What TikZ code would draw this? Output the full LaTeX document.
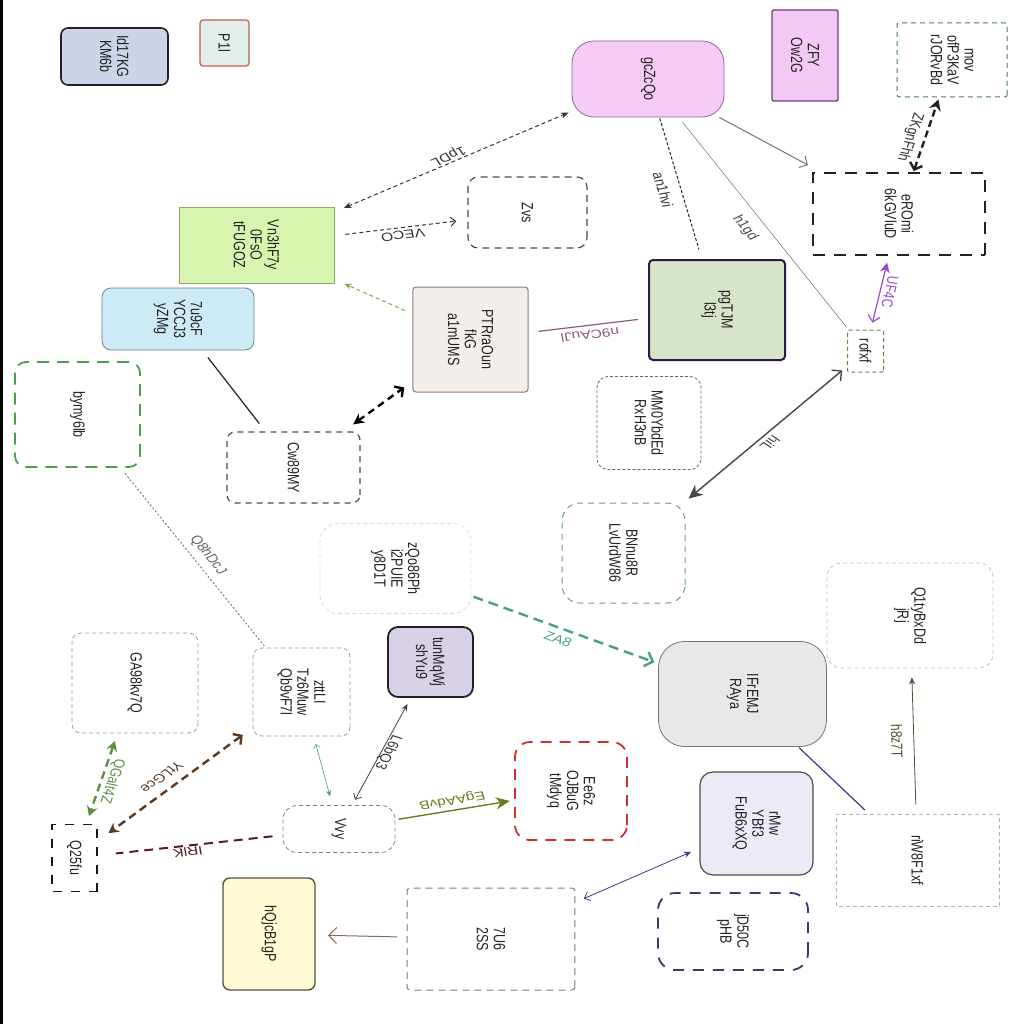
\documentclass[tikz,border=0pt]{standalone}
\usepackage{fontspec}
\setmainfont{Liberation Sans}
\usetikzlibrary{arrows.meta}
\definecolor{txt}{HTML}{222222}
\definecolor{fId}{HTML}{CDD3E8}
\definecolor{fP}{HTML}{E2EEEC}
\definecolor{dP}{HTML}{C0604A}
\definecolor{fVn}{HTML}{D8F5B0}
\definecolor{dVn}{HTML}{8AAA6A}
\definecolor{f7u}{HTML}{CDEAF7}
\definecolor{d7u}{HTML}{6A8090}
\definecolor{dBy}{HTML}{4E9E4E}
\definecolor{dCw}{HTML}{4A4A5A}
\definecolor{fPt}{HTML}{F4EEEA}
\definecolor{dPt}{HTML}{8A7A7A}
\definecolor{fGc}{HTML}{F6CCF6}
\definecolor{dGc}{HTML}{8A6A8A}
\definecolor{fZf}{HTML}{F2C8F4}
\definecolor{dZf}{HTML}{7A3A8A}
\definecolor{dMo}{HTML}{4A7A80}
\definecolor{fPg}{HTML}{D8E4C8}
\definecolor{dPg}{HTML}{2A1A4A}
\definecolor{dRo}{HTML}{6A8040}
\definecolor{dBn}{HTML}{6A9A90}
\definecolor{dZq}{HTML}{E2E0A8}
\definecolor{dQ1}{HTML}{D8C0A8}
\definecolor{fIf}{HTML}{E8E8E8}
\definecolor{fTu}{HTML}{D8D0E4}
\definecolor{fHq}{HTML}{FFFBD4}
\definecolor{dHq}{HTML}{5A5040}
\definecolor{d7U}{HTML}{7A7A90}
\definecolor{dEe}{HTML}{D03030}
\definecolor{fRm}{HTML}{EBEBF6}
\definecolor{dJd}{HTML}{3A3A6A}
\definecolor{dRi}{HTML}{A0B8C0}
\definecolor{eGreen}{HTML}{7AAA40}
\definecolor{ePurp}{HTML}{8A5A80}
\definecolor{eViol}{HTML}{9A4AD0}
\definecolor{eDkG}{HTML}{404840}
\definecolor{eTeal}{HTML}{4AA080}
\definecolor{eOlD}{HTML}{505030}
\definecolor{eNavy}{HTML}{3A3A7A}
\definecolor{eTeal2}{HTML}{4A9A80}
\definecolor{eOlive}{HTML}{6A7A20}
\definecolor{eGr2}{HTML}{5A9040}
\definecolor{eBrown}{HTML}{5A3A20}
\definecolor{eMaroon}{HTML}{5A1A20}
\definecolor{eBr2}{HTML}{8A6A5A}
\definecolor{eNavy2}{HTML}{3A3A8A}
\begin{document}
\begin{tikzpicture}[x=1pt,y=-1pt,
  nb/.style={xscale=1.3,rotate=-90,inner sep=0pt,align=center,text=txt,font=\fontsize{12.5}{13}\selectfont},
  lb/.style={xscale=1.3,inner sep=1pt,font=\fontsize{12}{13}\selectfont}]
\useasboundingbox (0,0) rectangle (1024,1024);
\fill[black] (0,0) rectangle (2.5,1024);
% nodes
\node[nb,fill=fId,draw=txt,line width=1.6pt,rounded corners=7pt,minimum width=57pt,minimum height=82.3pt] (id17) at (114.5,56.5) {Id17KG\\KM6b};
\node[nb,fill=fP,draw=dP,line width=1.2pt,rounded corners=3pt,minimum width=46pt,minimum height=37.7pt] (p1l) at (224.5,43) {P1l};
\node[nb,fill=fVn,draw=dVn,line width=0.8pt,minimum width=76pt,minimum height=119.2pt] (vn3) at (256.5,245) {Vn3hF7y\\0FsO\\tFUGOZ};
\node[nb,fill=f7u,draw=d7u,line width=0.8pt,rounded corners=9pt,minimum width=62pt,minimum height=116.9pt] (u7u) at (178,319) {7u9cF\\YCCJ3\\yZMg};
\node[nb,fill=white,draw=dBy,line width=1.8pt,dash pattern=on 12pt off 8pt,rounded corners=11pt,minimum width=105pt,minimum height=96.2pt] (bymy) at (77.5,414.5) {bymy6lb};
\node[nb,draw=dCw,line width=1.2pt,dash pattern=on 6pt off 5pt,rounded corners=8pt,minimum width=71pt,minimum height=102.3pt] (cw89) at (293.5,467.5) {Cw89MY};
\node[nb,fill=fPt,draw=dPt,line width=1pt,rounded corners=3pt,minimum width=105pt,minimum height=88.5pt] (ptr) at (470.5,339.5) {PTRraOun\\fkG\\a1mUMS};
\node[nb,fill=fGc,draw=dGc,line width=0.8pt,rounded corners=22pt,minimum width=76pt,minimum height=116.9pt] (gcz) at (648,79) {gcZcQo};
\node[nb,draw=black!70,line width=1.2pt,dash pattern=on 7pt off 5pt,rounded corners=10pt,minimum width=71pt,minimum height=91.5pt] (zvs) at (527.5,212.5) {Zvs};
\node[nb,fill=fZf,draw=dZf,line width=1.4pt,rounded corners=2pt,minimum width=91pt,minimum height=50.8pt] (zfy) at (805,55.5) {ZFY\\Ow2G};
\node[nb,draw=dMo,line width=1pt,dash pattern=on 5pt off 4pt,rounded corners=2pt,minimum width=74pt,minimum height=84.6pt] (mov) at (952,60) {mov\\ofP3KaV\\rJORvBd};
\node[nb,draw=txt,line width=1.8pt,dash pattern=on 12pt off 9pt,minimum width=82pt,minimum height=132.3pt] (ero) at (899,214) {eROmi\\6kGVluD};
\node[nb,fill=fPg,draw=dPg,line width=2pt,rounded corners=4pt,minimum width=100pt,minimum height=104.6pt] (pgt) at (717,310) {pgTJM\\l3tj};
\node[nb,draw=dRo,line width=1pt,dash pattern=on 4pt off 3pt,rounded corners=2pt,minimum width=42pt,minimum height=27.7pt] (rof) at (865.5,351) {rofxf};
\node[nb,draw=black!60,line width=0.8pt,dash pattern=on 3pt off 2pt,rounded corners=11pt,minimum width=93pt,minimum height=80pt] (mm0) at (649,423) {MM0YbdEd\\RxH3nB};
\node[nb,draw=dBn,line width=1pt,dash pattern=on 6pt off 5pt,rounded corners=18pt,minimum width=100pt,minimum height=94.6pt] (bnn) at (623.5,553) {BNnu8R\\LvUrdW86};
\node[nb,draw=dZq,line width=0.8pt,dash pattern=on 4pt off 3pt,rounded corners=18pt,minimum width=90pt,minimum height=116.2pt] (zqo) at (395.5,568.5) {zQo86Ph\\i2PUIE\\y8D1T};
\node[nb,draw=dQ1,line width=0.8pt,dash pattern=on 4pt off 3pt,rounded corners=14pt,minimum width=105pt,minimum height=127.7pt] (q1t) at (910,615.5) {Q1tyBxDd\\jRj};
\node[nb,fill=fIf,draw=black!55,line width=0.8pt,rounded corners=26pt,minimum width=105pt,minimum height=129.2pt] (ifr) at (742.5,694) {IFrEMJ\\RAya};
\node[nb,draw=black!40,line width=0.8pt,dash pattern=on 4pt off 3pt,rounded corners=9pt,minimum width=100pt,minimum height=96.9pt] (ga9) at (135,683) {GA98kv7Q};
\node[nb,draw=black!40,line width=0.8pt,dash pattern=on 4pt off 3pt,rounded corners=9pt,minimum width=88pt,minimum height=74.6pt] (ztt) at (301.5,692) {zttLI\\Tz6Muw\\Qb9vF7l};
\node[nb,fill=fTu,draw=txt,line width=1.8pt,rounded corners=10pt,minimum width=70pt,minimum height=65.4pt] (tun) at (430.5,662) {tunMqWj\\shYu9};
\node[nb,draw=black!50,line width=0.8pt,dash pattern=on 4pt off 3pt,rounded corners=14pt,minimum width=47pt,minimum height=86.2pt] (vvy) at (339,829) {Vvy};
\node[nb,draw=black!90,line width=1.6pt,dash pattern=on 9pt off 9pt,minimum width=67pt,minimum height=34.6pt] (q25) at (74.5,858) {Q25fu};
\node[nb,fill=fHq,draw=dHq,line width=1.4pt,rounded corners=7pt,minimum width=112pt,minimum height=70.8pt] (hqj) at (269,934) {hQjcB1gP};
\node[nb,draw=d7U,line width=1pt,dash pattern=on 7pt off 5pt,rounded corners=3pt,minimum width=102pt,minimum height=129.2pt] (u7U) at (491,939) {7U6\\2SS};
\node[nb,draw=dEe,line width=1.8pt,dash pattern=on 11pt off 8pt,rounded corners=15pt,minimum width=98pt,minimum height=86.2pt] (ee6) at (571,791) {Ee6z\\OJBuG\\tMdyq};
\node[nb,fill=fRm,draw=black!70,line width=1.2pt,rounded corners=13pt,minimum width=103pt,minimum height=86.9pt] (rmw) at (756.5,823.5) {rMw\\YBf3\\FuB6xXQ};
\node[nb,draw=dJd,line width=1.8pt,dash pattern=on 11pt off 9pt,rounded corners=17pt,minimum width=77pt,minimum height=115.4pt] (jd5) at (733,931.5) {jD50C\\pHB};
\node[nb,draw=dRi,line width=0.8pt,dash pattern=on 4pt off 3pt,minimum width=92pt,minimum height=125.4pt] (riw) at (917.5,860) {riW8F1xf};
% connectors
\draw[draw=black!80,line width=1pt,dash pattern=on 4pt off 3pt,{Stealth[length=8pt,width=6pt]}-{Stealth[length=8pt,width=6pt]},shorten <=10pt,shorten >=3pt] (vn3) -- (gcz);
\draw[draw=black!80,line width=1pt,dash pattern=on 4pt off 3pt,-{Straight Barb[length=5pt,width=9pt]},shorten <=11pt,shorten >=11pt] (vn3) -- (zvs);
\draw[draw=eGreen,line width=1pt,dash pattern=on 4pt off 3pt,-{Stealth[length=7pt,width=6pt]},shorten <=8pt,shorten >=11pt] (ptr) -- (vn3);
\draw[draw=black,line width=2.4pt,dash pattern=on 7pt off 5pt,{Stealth[length=11pt,width=11pt]}-{Straight Barb[length=6pt,width=13pt]},shorten <=12pt,shorten >=10pt] (cw89) -- (ptr);
\draw[draw=txt,line width=1.2pt,shorten <=9pt,shorten >=10pt] (u7u) -- (cw89);
\draw[draw=ePurp,line width=1.2pt,shorten <=10pt,shorten >=10pt] (ptr) -- (pgt);
\draw[draw=txt,line width=1pt,dash pattern=on 3pt off 2pt,shorten <=1pt,shorten >=10pt] (gcz) -- (pgt);
\draw[draw=black!55,line width=1pt,-{Straight Barb[length=6pt,width=13pt]},shorten >=15pt] (gcz) -- (ero);
\draw[draw=black!50,line width=0.6pt,shorten <=6pt,shorten >=3pt] (gcz) -- (rof);
\draw[draw=txt,line width=2.4pt,dash pattern=on 7pt off 4pt,{Straight Barb[length=6pt,width=13pt]}-{Stealth[length=11pt,width=12pt]},shorten <=1pt,shorten >=2pt] (ero) -- (mov);
\draw[draw=eViol,line width=1.2pt,{Straight Barb[length=6pt,width=12pt]}-{Stealth[length=10pt,width=10pt]},shorten <=7pt,shorten >=7pt] (rof) -- (ero);
\draw[draw=eDkG,line width=1.4pt,{Straight Barb[length=7pt,width=14pt]}-{Stealth[length=14pt,width=13pt]},shorten <=6pt,shorten >=6pt] (rof) -- (bnn);
\draw[draw=eTeal,line width=2.4pt,dash pattern=on 10pt off 6pt,-{Straight Barb[length=7pt,width=15pt]},shorten <=2pt,shorten >=4pt] (zqo) -- (ifr);
\draw[draw=eOlD,line width=0.8pt,-{Stealth[length=7pt,width=6pt]},shorten <=9pt,shorten >=9pt] (riw) -- (q1t);
\draw[draw=eNavy,line width=1.2pt,shorten <=1pt,shorten >=5pt] (ifr) -- (riw);
\draw[draw=black!60,line width=0.8pt,dash pattern=on 2pt off 2pt,shorten <=7pt,shorten >=2pt] (bymy) -- (ztt);
\draw[draw=eTeal2,line width=0.6pt,{Straight Barb[length=4pt,width=7pt]}-{Stealth[length=6pt,width=5pt]},shorten <=8pt,shorten >=9pt] (ztt) -- (vvy);
\draw[draw=black!75,line width=0.8pt,{Straight Barb[length=5pt,width=9pt]}-{Stealth[length=7pt,width=6pt]},shorten <=6pt,shorten >=7pt] (vvy) -- (tun);
\draw[draw=eOlive,line width=1.4pt,-{Stealth[length=14pt,width=12pt]},shorten <=3pt,shorten >=4pt] (vvy) -- (ee6);
\draw[draw=eGr2,line width=2.4pt,dash pattern=on 8pt off 5pt,{Stealth[length=10pt,width=11pt]}-{Stealth[length=10pt,width=11pt]},shorten <=8pt,shorten >=8pt] (ga9) -- (q25);
\draw[draw=eBrown,line width=2.4pt,dash pattern=on 8pt off 5pt,{Straight Barb[length=6pt,width=13pt]}-{Stealth[length=10pt,width=11pt]},shorten <=12pt,shorten >=13pt] (ztt) -- (q25);
\draw[draw=eMaroon,line width=2pt,dash pattern=on 9pt off 6pt,shorten <=10pt,shorten >=18pt] (vvy) -- (q25);
\draw[draw=eBr2,line width=1pt,-{Straight Barb[length=8pt,width=16pt]},shorten <=9pt,shorten >=12pt] (u7U) -- (hqj);
\draw[draw=eNavy2,line width=0.8pt,{Straight Barb[length=5pt,width=9pt]}-{Stealth[length=7pt,width=6pt]},shorten <=9pt,shorten >=9pt] (u7U) -- (rmw);
% labels
\node[lb,text=black!80,rotate=-151.7] (l1) at (448,156) {1pDL};
\node[lb,text=black!80,rotate=-171.1] (l2) at (403,235) {VECO};
\node[lb,text=ePurp,rotate=-171.1] (l3) at (590,335) {n9CAuJl};
\node[lb,text=black!80,rotate=-77.1] (l4) at (663,190) {an1hvi};
\node[lb,text=black!70,rotate=-58.4] (l5) at (745,228) {h1gd};
\node[lb,text=black!80,rotate=-104.8] (l6) at (910,137) {ZKgnFhh};
\node[lb,text=eViol,rotate=-100.6] (l7) at (890,292) {UF4C};
\node[lb,text=eDkG,rotate=-132.6] (l8) at (770,443) {hiL};
\node[lb,text=eTeal,rotate=-25.2] (l9) at (558,639) {ZA8};
\node[lb,text=eOlD,rotate=-88.6] (l10) at (897,741) {h8z7T};
\node[lb,text=black!60,rotate=-58.2] (l11) at (208,555) {Q8hDcJ};
\node[lb,text=black!80,rotate=-112.8] (l12) at (388,752) {L6bQ3};
\node[lb,text=eOlive,rotate=-167.9] (l13) at (452,800) {EgAAdvB};
\node[lb,text=eGr2,rotate=-104.9] (l14) at (112,781) {QGalt4Z};
\node[lb,text=eBrown,rotate=-136.4] (l15) at (162,777) {YtLGce};
\node[lb,text=eMaroon,rotate=-171.8] (l16) at (188,852) {IRlK};
\end{tikzpicture}
\end{document}
